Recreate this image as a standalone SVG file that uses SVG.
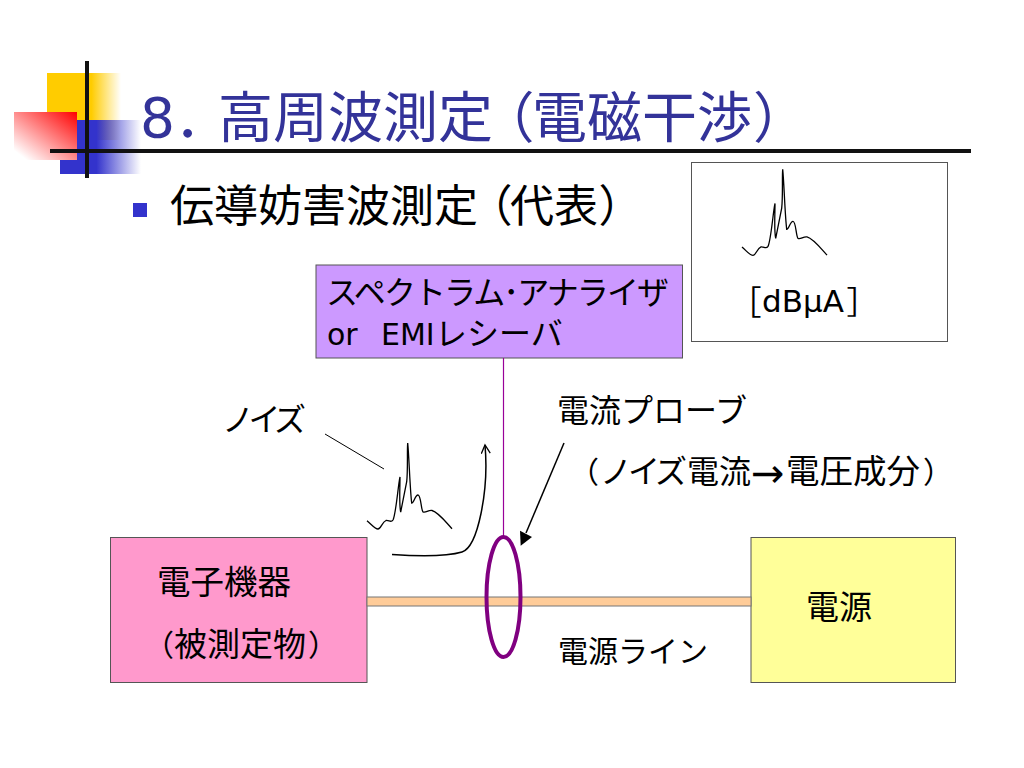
<svg xmlns="http://www.w3.org/2000/svg" xmlns:xlink="http://www.w3.org/1999/xlink" width="1024" height="768" viewBox="0 0 1024 768">
<style>
text{font-family:"DejaVu Sans","Noto Sans CJK JP",sans-serif;fill:#000}
.ti{font-size:55px;fill:#333399}
.bu{font-size:44px}
.p{font-family:"Noto Sans CJK JP",sans-serif;font-feature-settings:"palt"}
.b{fill:none;stroke:#000;stroke-width:1.3}
.box{stroke:#555;stroke-width:1}
</style>
<defs>
<linearGradient id="gy"><stop offset="0.6" stop-color="#ffcc00"/><stop offset="1" stop-color="#ffcc00" stop-opacity="0"/></linearGradient>
<linearGradient id="gb"><stop offset="0.45" stop-color="#3333cc"/><stop offset="1" stop-color="#3333cc" stop-opacity="0"/></linearGradient>
<linearGradient id="gr" x1="1" y1="0" x2="0" y2="1"><stop offset="0" stop-color="#ff0000"/><stop offset="0.9" stop-color="#ffffff"/></linearGradient>
<path id="noise" class="b" d="M367 520.700C372 525 375 529 378 529C381 529 382 522 386 520.500C389 520 391 523 393 520C396 514 398 486 400 477C400 488 399 505 400.700 512C402 505 404 495 406.700 481.700C408 470 407 450 407.700 443C409 455 410 490 411.700 503C414 503 415 495 418 495C421 495 421 510 423 512C426 513 428 510 432 510.500C438 512 445 521 452 528.700"/>
<marker id="open" markerWidth="12" markerHeight="10" refX="9.500" refY="5" orient="auto" markerUnits="userSpaceOnUse"><path d="M1 0.500L9.500 5L1 9.500" fill="none" stroke="#000" stroke-width="1.300"/></marker>
</defs>
<g id="decor">
<rect x="47" y="73" width="74" height="67" fill="url(#gy)"/>
<rect x="60" y="120" width="81" height="54" fill="url(#gb)"/>
<rect x="14" y="112" width="63" height="48" fill="url(#gr)"/>
<path d="M87 61V178" stroke="#111" stroke-width="4"/>
<path d="M50 151H971" stroke="#111" stroke-width="4"/>
</g>
<g id="title">
<text class="ti" x="140" y="137">8<tspan class="p" dx="4">．</tspan></text>
<text class="ti" x="218" y="137">高周波測定</text>
<text class="ti p" x="505" y="137">（</text>
<text class="ti" x="532" y="137">電磁干渉</text>
<text class="ti p" x="755" y="137">）</text>
</g>
<g id="bullet">
<rect x="133" y="203" width="14" height="14" fill="#3333cc"/>
<text class="bu" x="170" y="222">伝導妨害波測定</text>
<text class="bu p" x="489" y="222">（</text>
<text class="bu" x="510" y="222">代表</text>
<text class="bu p" x="600" y="222">）</text>
</g>
<g id="spectrum-box">
<rect x="691.500" y="162.500" width="256" height="179" fill="#fff" stroke="#555"/>
<use xlink:href="#noise" href="#noise" x="375" y="-273.600"/>
<text class="p" x="745" y="314" style="font-size:32px">［</text>
<text x="762" y="312" style="font-size:31px">dBμA</text>
<text class="p" x="847" y="314" style="font-size:32px">］</text>
</g>
<g id="analyzer">
<rect class="box" x="316" y="265" width="366.500" height="93" fill="#cc99ff"/>
<text x="326" y="304" style="font-size:32px" textLength="343" lengthAdjust="spacing">スペクトラム･アナライザ</text>
<text x="327" y="345" style="font-size:30px">or</text>
<text x="381" y="345" style="font-size:30px">EMI</text>
<text x="435" y="345" style="font-size:32px">レシーバ</text>
</g>
<g id="device">
<rect class="box" x="110.500" y="537.500" width="256.500" height="145" fill="#ff99cc"/>
<text x="157" y="594" style="font-size:33.500px">電子機器</text>
<text class="p" x="158" y="656" style="font-size:30px">（</text>
<text x="174" y="656" style="font-size:33px">被測定物</text>
<text class="p" x="309" y="656" style="font-size:30px">）</text>
</g>
<g id="power">
<rect class="box" x="751" y="537.500" width="204.500" height="145" fill="#ffff99"/>
<text x="806" y="619" style="font-size:33px">電源</text>
</g>
<g id="connectors">
<rect x="367" y="597" width="384" height="9" fill="#ffcc99" stroke="#777" stroke-width="1"/>
<path d="M503.500 358V537" stroke="#990099" stroke-width="1.200" fill="none"/>
<path d="M325 434L384 469" fill="none" stroke="#000" stroke-width="1"/>
<path d="M392 554.500C415 556 445 557 462 552C478 547 489 490 485 445" fill="none" stroke="#000" stroke-width="1.500" marker-end="url(#open)"/>
<path d="M564 443L526 533" fill="none" stroke="#000" stroke-width="1.500"/>
<path d="M520.700 545.700L520 530.700L532 537Z" fill="#000"/>
<use xlink:href="#noise" href="#noise"/>
<ellipse cx="503.500" cy="597" rx="17" ry="60" fill="none" stroke="#800080" stroke-width="4"/>
</g>
<g id="labels">
<text x="222" y="431" style="font-size:32px" textLength="84" lengthAdjust="spacing">ノイズ</text>
<text x="557" y="422" style="font-size:32px">電流プローブ</text>
<text class="p" x="583" y="483" style="font-size:30px">（</text>
<text x="600" y="483" style="font-size:32px" textLength="87" lengthAdjust="spacing">ノイズ</text>
<text x="687" y="483" style="font-size:32px">電流</text>
<text x="751" y="487" style="font-size:40px;font-family:'DejaVu Sans',sans-serif">→</text>
<text x="786" y="483" style="font-size:33.500px">電圧成分</text>
<text class="p" x="924" y="483" style="font-size:30px">）</text>
<text x="558" y="662" style="font-size:30px">電源ライン</text>
</g>
</svg>
